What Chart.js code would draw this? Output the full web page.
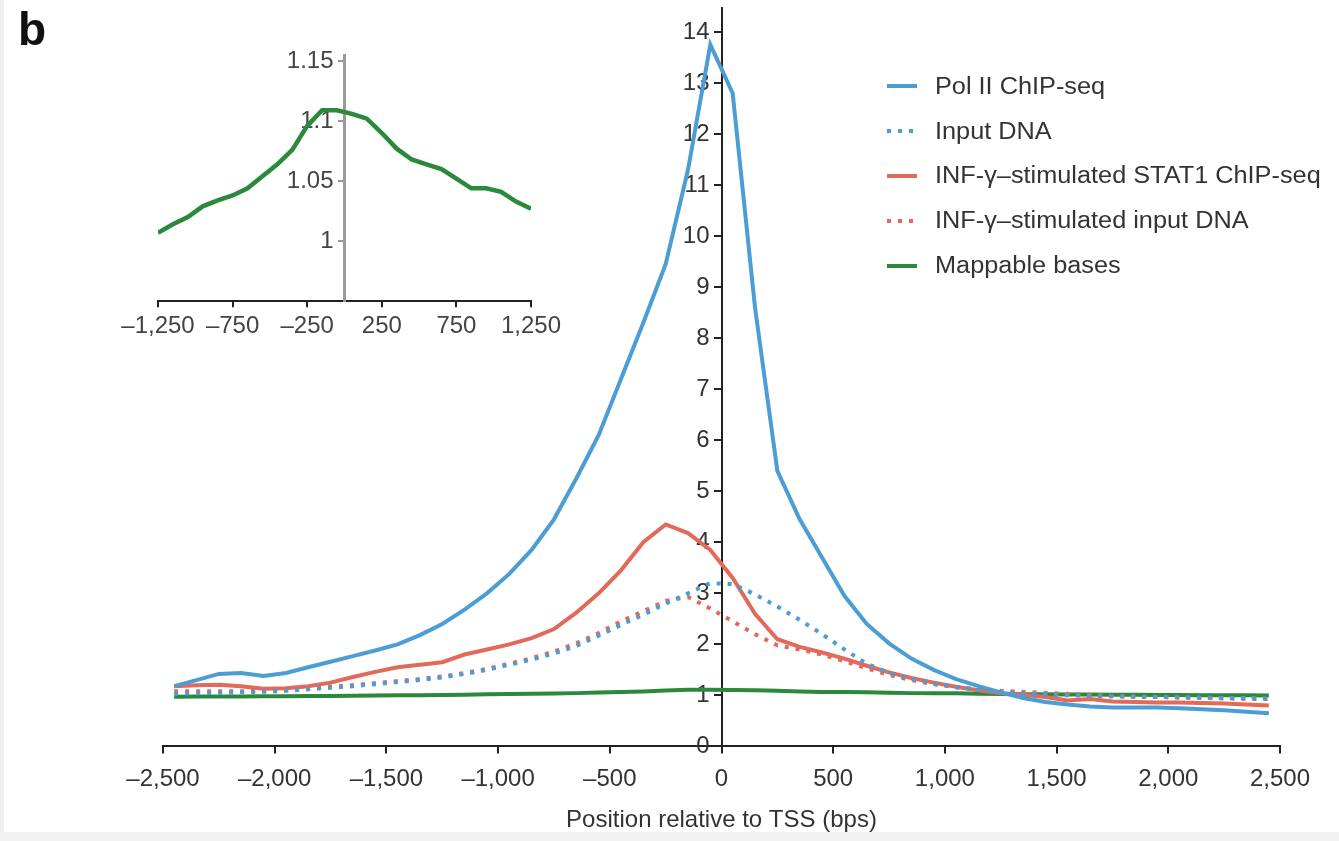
<!DOCTYPE html>
<html>
<head>
<meta charset="utf-8">
<script src="https://cdn.jsdelivr.net/npm/chart.js@4"></script>
<style>
  html, body { margin: 0; padding: 0; background: #f0f0f0; }
  #wrap { position: relative; width: 1339px; height: 841px; overflow: hidden; }
  #panel { position: absolute; left: 4px; top: 0; width: 1335px; height: 832px; background: #fff; }
  #main, #inset { position: absolute; left: 0; top: 0; }
  #tag { position: absolute; left: 18px; top: 2px; font: bold 46px "Liberation Sans", Arial, sans-serif; color: #111; }
  #legend { position: absolute; left: 886px; top: 64px; font: 23px "Liberation Sans", Arial, sans-serif; color: #333; }
  .item { height: 44.8px; display: flex; align-items: center; white-space: nowrap; }
  .item svg { margin-right: 17px; }
  .item span { display: inline-block; transform: scaleX(1.1); transform-origin: left center; }
</style>
</head>
<body>
<div id="wrap">
  <div id="panel"></div>
  <canvas id="main" width="1339" height="841"></canvas>
  <canvas id="inset" width="600" height="360"></canvas>
  <div id="tag">b</div>
  <div id="legend"></div>
</div>
<script>
// bin centres (bp relative to TSS)
const positions = [-2450, -2350, -2250, -2150, -2050, -1950, -1850, -1750, -1650, -1550,
  -1450, -1350, -1250, -1150, -1050, -950, -850, -750, -650, -550,
  -450, -350, -250, -150, -50, 50, 150, 250, 350, 450,
  550, 650, 750, 850, 950, 1050, 1150, 1250, 1350, 1450,
  1550, 1650, 1750, 1850, 1950, 2050, 2150, 2250, 2350, 2450];

const polII = [1.18, 1.3, 1.42, 1.44, 1.38, 1.44, 1.55, 1.66, 1.77, 1.88,
  2.0, 2.18, 2.4, 2.68, 3.0, 3.38, 3.85, 4.45, 5.25, 6.1,
  7.2, 8.3, 9.45, 11.3, 13.75, 12.8, 8.6, 5.4, 4.45, 3.7,
  2.95, 2.4, 2.02, 1.72, 1.5, 1.32, 1.18, 1.06, 0.95, 0.87,
  0.82, 0.78, 0.76, 0.76, 0.76, 0.75, 0.73, 0.71, 0.68, 0.65];

const inputDNA = [1.03, 1.04, 1.05, 1.06, 1.07, 1.09, 1.12, 1.15, 1.18, 1.22,
  1.26, 1.3, 1.35, 1.42, 1.5, 1.6, 1.7, 1.82, 1.97, 2.17,
  2.38, 2.58, 2.8, 3.0, 3.2, 3.18, 2.98, 2.74, 2.48, 2.2,
  1.9, 1.62, 1.44, 1.32, 1.23, 1.16, 1.11, 1.07, 1.04, 1.02,
  1.0, 0.99, 0.98, 0.97, 0.97, 0.96, 0.96, 0.95, 0.95, 0.94];

const stat1 = [1.18, 1.2, 1.21, 1.18, 1.13, 1.14, 1.18, 1.25, 1.36, 1.46,
  1.55, 1.6, 1.65, 1.8, 1.9, 2.0, 2.12, 2.3, 2.62, 3.0,
  3.45, 4.0, 4.35, 4.18, 3.85, 3.3, 2.6, 2.1, 1.95, 1.84,
  1.72, 1.58, 1.45, 1.34, 1.25, 1.17, 1.1, 1.04, 1.01, 0.97,
  0.9, 0.93, 0.88, 0.87, 0.86, 0.86, 0.85, 0.84, 0.82, 0.8];

const stat1Input = [1.08, 1.08, 1.08, 1.08, 1.09, 1.1, 1.13, 1.17, 1.2, 1.24,
  1.28, 1.32, 1.37, 1.44, 1.52, 1.62, 1.73, 1.86, 2.02, 2.22,
  2.45, 2.65, 2.85, 2.93, 2.7, 2.45, 2.2, 1.98, 1.9, 1.8,
  1.67, 1.53, 1.4, 1.3, 1.22, 1.16, 1.12, 1.09, 1.07, 1.05,
  1.03, 1.01, 0.99, 0.98, 0.97, 0.96, 0.95, 0.94, 0.93, 0.93];

const mappable = [0.975, 0.976, 0.977, 0.979, 0.981, 0.983, 0.986, 0.989, 0.992, 0.996,
  1.0, 1.003, 1.007, 1.014, 1.02, 1.029, 1.034, 1.038, 1.044, 1.054,
  1.064, 1.076, 1.096, 1.109, 1.109, 1.106, 1.102, 1.09, 1.077, 1.068,
  1.064, 1.06, 1.052, 1.044, 1.044, 1.041, 1.033, 1.027, 1.024, 1.02,
  1.018, 1.015, 1.012, 1.01, 1.007, 1.005, 1.003, 1.001, 1.0, 0.998];

const seriesNames = ['Pol II ChIP-seq', 'Input DNA', 'INF-\u03b3\u2013stimulated STAT1 ChIP-seq',
  'INF-\u03b3\u2013stimulated input DNA', 'Mappable bases'];

const insetXTicks = [-1250, -750, -250, 250, 750, 1250];
const insetYTicks = [1, 1.05, 1.1, 1.15];

const FONT = '"Liberation Sans", Arial, sans-serif';
const BLUE = 'rgb(76,157,212)';
const RED = 'rgb(226,106,90)';
const GREEN = 'rgb(42,137,58)';
const DOT = [4, 7];

const styles = [
  {color: BLUE, dash: []},
  {color: BLUE, dash: DOT},
  {color: RED, dash: []},
  {color: RED, dash: DOT},
  {color: GREEN, dash: []},
];

// "-2500" -> "–2,500"
function fmt(v) {
  const s = Math.abs(v).toLocaleString('en-US');
  return v < 0 ? '\u2013' + s : s;
}

// y axis sits at x = 0, so push its labels left of the tick marks
const labelShift = {
  id: 'labelShift',
  beforeDraw(chart, args, opts) {
    chart.scales.y.getLabelItems().forEach((it) => {
      if (!it._shifted) {
        it.options.translation[0] -= opts.dx;
        it._shifted = true;
      }
    });
  },
};

const allSeries = [polII, inputDNA, stat1, stat1Input, mappable];
const datasets = allSeries.map((vals, i) => ({
  label: seriesNames[i],
  data: positions.map((x, j) => ({x: x, y: vals[j]})),
  borderColor: styles[i].color,
  borderDash: styles[i].dash,
  borderWidth: 4,
  borderCapStyle: 'butt',
  pointRadius: 0,
  tension: 0,
  fill: false,
}));

new Chart(document.getElementById('main'), {
  type: 'line',
  data: {datasets: datasets},
  plugins: [labelShift],
  options: {
    responsive: false,
    animation: false,
    layout: {padding: {left: 163, right: 59, top: 8, bottom: 5}},
    plugins: {legend: {display: false}, tooltip: {enabled: false}, labelShift: {dx: 12}},
    scales: {
      x: {
        type: 'linear',
        min: -2500,
        max: 2500,
        ticks: {
          stepSize: 500, autoSkip: false, maxRotation: 0, padding: 12,
          font: {family: FONT, size: 24}, color: '#333',
          callback: (v) => fmt(v),
        },
        grid: {drawOnChartArea: false, tickLength: 7, color: '#222', lineWidth: 2},
        border: {color: '#222', width: 2},
        title: {
          display: true, text: 'Position relative to TSS (bps)',
          font: {family: FONT, size: 24}, color: '#333',
          padding: {top: 0, bottom: 1},
        },
      },
      y: {
        type: 'linear',
        min: 0,
        max: 14.47,
        position: {x: 0},
        ticks: {
          stepSize: 1, includeBounds: false, padding: 0,
          font: {family: FONT, size: 24, lineHeight: 0.5}, color: '#333',
        },
        grid: {drawOnChartArea: false, tickLength: 7, color: '#222', lineWidth: 2},
        border: {color: '#222', width: 2},
      },
    },
  },
});

// inset: mappable bases, zoomed
const insetPoints = positions
  .map((x, j) => ({x: x, y: mappable[j]}))
  .filter((p) => Math.abs(p.x) <= 1250);

new Chart(document.getElementById('inset'), {
  type: 'line',
  data: {
    datasets: [{
      data: insetPoints,
      borderColor: GREEN,
      borderWidth: 4.5,
      pointRadius: 0,
      tension: 0,
      fill: false,
    }],
  },
  plugins: [labelShift],
  options: {
    responsive: false,
    animation: false,
    layout: {padding: {left: 158, right: 69, top: 55, bottom: 14}},
    plugins: {legend: {display: false}, tooltip: {enabled: false}, labelShift: {dx: 11}},
    scales: {
      x: {
        type: 'linear',
        min: -1250,
        max: 1250,
        afterBuildTicks: (s) => { s.ticks = insetXTicks.map((v) => ({value: v})); },
        ticks: {
          autoSkip: false, maxRotation: 0, padding: 5,
          font: {family: FONT, size: 24}, color: '#444',
          callback: (v) => fmt(v),
        },
        grid: {drawOnChartArea: false, tickLength: 6, color: '#222', lineWidth: 2},
        border: {color: '#222', width: 2},
      },
      y: {
        type: 'linear',
        min: 0.95,
        max: 1.155,
        position: {x: 0},
        afterBuildTicks: (s) => { s.ticks = insetYTicks.map((v) => ({value: v})); },
        ticks: {
          padding: 0,
          font: {family: FONT, size: 24, lineHeight: 0.5}, color: '#444',
          callback: (v) => String(+v.toFixed(2)),
        },
        grid: {drawOnChartArea: false, tickLength: 5, color: '#999', lineWidth: 2},
        border: {color: '#9a9a9a', width: 3},
      },
    },
  },
});

// legend
const legend = document.getElementById('legend');
seriesNames.forEach((name, i) => {
  const row = document.createElement('div');
  row.className = 'item';
  const dash = styles[i].dash.length ? `stroke-dasharray="${styles[i].dash.join(' ')}"` : '';
  row.innerHTML = `<svg width="32" height="8"><line x1="1" y1="4" x2="31" y2="4" stroke="${styles[i].color}" stroke-width="4" ${dash}/></svg><span>${name}</span>`;
  legend.appendChild(row);
});
</script>
</body>
</html>
